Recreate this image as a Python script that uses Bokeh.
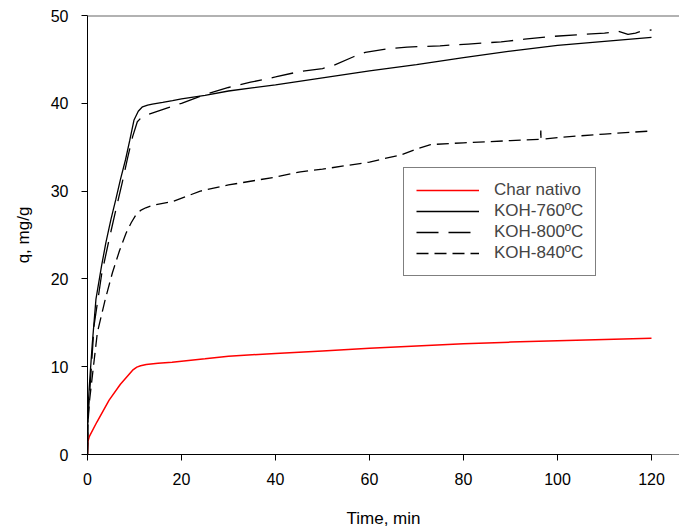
from bokeh.plotting import figure
from bokeh.models import Range1d, FixedTicker, Span, Legend, LegendItem
from bokeh.embed import file_html
from bokeh.resources import INLINE

# ---- data ----
t_char = [0, 0.1, 0.35, 2, 4.6, 7, 9.6, 10.5, 11.3, 12.5, 15, 18, 25, 30, 40, 50, 60, 70, 80, 90, 100, 110, 120]
q_char = [0, 1.5, 2.0, 3.7, 6.2, 8.0, 9.6, 9.95, 10.1, 10.25, 10.4, 10.5, 10.9, 11.2, 11.5, 11.8, 12.1, 12.35, 12.6, 12.8, 12.95, 13.1, 13.25]

t_760 = [0, 0.1, 0.35, 1, 1.8, 3, 3.9, 5, 6, 7, 8.1, 9, 9.9, 10.8, 11.7, 12.8, 13.8, 16, 18.1, 20, 25, 30, 35, 40, 50, 60, 70, 80, 90, 100, 110, 120]
q_760 = [0, 5, 7.5, 12.5, 17.7, 21.5, 24.1, 26.8, 29.0, 31.3, 33.6, 35.8, 38.1, 39.1, 39.6, 39.8, 39.9, 40.1, 40.3, 40.5, 40.9, 41.4, 41.75, 42.1, 42.9, 43.7, 44.4, 45.2, 45.95, 46.6, 47.05, 47.5]

t_800 = [0, 0.1, 0.4, 1.4, 3, 4.6, 6, 7.4, 8.5, 9.6, 10.6, 11.5, 12.8, 15, 17.2, 20, 25, 30, 34.7, 40, 45, 50, 52.3, 56.6, 59.1, 63.8, 68, 75, 81, 88, 93, 98.5, 104, 110, 113, 115, 116.6, 118.3, 120]
q_800 = [0, 4, 6.5, 14.7, 20.5, 24.5, 27.8, 31, 33.7, 36.2, 37.9, 38.4, 38.7, 39.1, 39.5, 40.0, 41.0, 41.8, 42.4, 43.0, 43.6, 43.95, 44.3, 45.3, 45.8, 46.2, 46.4, 46.55, 46.75, 47.0, 47.3, 47.6, 47.8, 48.0, 48.2, 47.85, 48.0, 48.3, 48.35]

t_840 = [0, 0.1, 0.4, 2.1, 3.7, 5.3, 6.8, 8.2, 9.3, 10.3, 11.3, 12.4, 14, 18.1, 24, 30, 40, 45.3, 50, 55, 60, 62.3, 66.6, 70, 73, 80, 90, 96.4, 96.45, 96.5, 100, 110, 120]
q_840 = [0, 3.5, 6, 13.9, 17.5, 20.7, 23.2, 25.2, 26.4, 27.3, 27.8, 28.1, 28.4, 28.8, 30.0, 30.7, 31.6, 32.2, 32.5, 32.9, 33.3, 33.6, 34.1, 34.8, 35.3, 35.5, 35.75, 35.9, 36.9, 35.9, 36.1, 36.5, 36.85]

labels = ["Char nativo", "KOH-760\u00baC", "KOH-800\u00baC", "KOH-840\u00baC"]
x_ticks = [0, 20, 40, 60, 80, 100, 120]
y_ticks = [0, 10, 20, 30, 40, 50]

FONT = "Liberation Sans"

p = figure(width=679, height=530, output_backend="svg", toolbar_location=None,
           x_range=Range1d(0, 125.96), y_range=Range1d(0, 50),
           min_border_left=87, min_border_right=0, min_border_top=15, min_border_bottom=74)
p.outline_line_color = None
p.xgrid.visible = False
p.ygrid.visible = False
p.background_fill_color = "white"
p.border_fill_color = "white"

r_char = p.line(t_char, q_char, line_color="#ff0000", line_width=1.5)
r_760 = p.line(t_760, q_760, line_color="black", line_width=1.3)
r_800 = p.line(t_800, q_800, line_color="black", line_width=1.3, line_dash="22 10")
r_840 = p.line(t_840, q_840, line_color="black", line_width=1.3, line_dash="12 6")

# top frame line (grey) and full-width bottom axis line
p.add_layout(Span(location=50, dimension="width", line_color="#666666", line_width=2))
p.add_layout(Span(location=0, dimension="width", line_color="black", line_width=1))

for ax, ticks in ((p.xaxis[0], x_ticks), (p.yaxis[0], y_ticks)):
    ax.ticker = FixedTicker(ticks=ticks)
    ax.minor_tick_line_color = None
    ax.major_tick_out = 6
    ax.major_tick_in = 0
    ax.axis_line_color = "black"
    ax.major_tick_line_color = "black"
    ax.major_label_text_font = FONT
    ax.major_label_text_font_size = "16px"
    ax.major_label_text_color = "black"
    ax.axis_label_text_font = FONT
    ax.axis_label_text_font_size = "17px"
    ax.axis_label_text_font_style = "normal"
    ax.axis_label_text_color = "black"

p.xaxis.bounds = (0, 120)   # label centred under the 0-120 span, as in the reference
p.xaxis.major_label_standoff = 12
p.yaxis.major_label_standoff = 13
p.xaxis.axis_label = "Time, min"
p.yaxis.axis_label = "q, mg/g"
p.xaxis.axis_label_standoff = 21
p.yaxis.axis_label_standoff = 15

legend = Legend(items=[LegendItem(label=labels[0], renderers=[r_char]),
                       LegendItem(label=labels[1], renderers=[r_760]),
                       LegendItem(label=labels[2], renderers=[r_800]),
                       LegendItem(label=labels[3], renderers=[r_840])],
                location=(316, 178))
legend.border_line_color = "black"
legend.border_line_width = 1
legend.background_fill_alpha = 1
legend.label_text_font = FONT
legend.label_text_font_size = "17px"
legend.glyph_width = 63
legend.glyph_height = 20
legend.label_height = 20
legend.spacing = 1
legend.padding = 12
legend.label_standoff = 15
legend.margin = 0
p.add_layout(legend)

open("out.html", "w").write(file_html(p, INLINE))
